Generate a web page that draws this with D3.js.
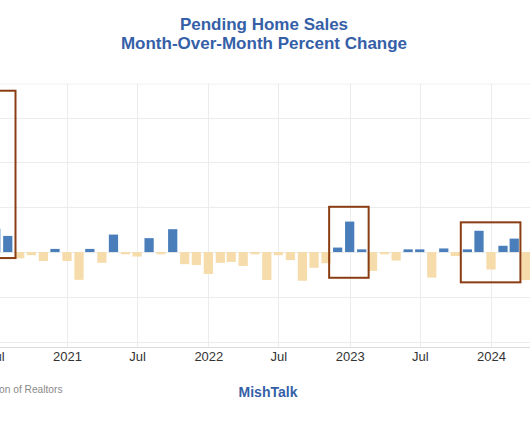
<!DOCTYPE html>
<html>
<head>
<meta charset="utf-8">
<script src="https://cdn.jsdelivr.net/npm/d3@7"></script>
<style>
  html, body { margin: 0; padding: 0; background: #ffffff; }
  svg { display: block; }
  text { font-family: "Liberation Sans", Arial, sans-serif; }
</style>
</head>
<body>
<div id="chart"></div>
<script>
// ---- Data (percent change, month over month) ----
const months = [
  "2020-07","2020-08","2020-09","2020-10","2020-11","2020-12",
  "2021-01","2021-02","2021-03","2021-04","2021-05","2021-06",
  "2021-07","2021-08","2021-09","2021-10","2021-11","2021-12",
  "2022-01","2022-02","2022-03","2022-04","2022-05","2022-06",
  "2022-07","2022-08","2022-09","2022-10","2022-11","2022-12",
  "2023-01","2023-02","2023-03","2023-04","2023-05","2023-06",
  "2023-07","2023-08","2023-09","2023-10","2023-11","2023-12",
  "2024-01","2024-02","2024-03","2024-04"
];
const pctChange = [
  5.2, 3.6, -1.4, -0.7, -2.0, 0.7,
  -2.0, -6.2, 0.7, -2.4, 3.9, -0.5,
  -1.0, 3.1, -0.5, 5.1, -2.7, -2.9,
  -4.9, -2.4, -2.2, -3.1, -0.5, -6.25,
  -0.7, -1.8, -6.4, -3.5, -2.5, 1.0,
  6.8, 0.6, -4.2, -0.5, -1.9, 0.6,
  0.6, -5.7, 0.8, -0.9, 0.6, 4.75,
  -3.9, 1.4, 3.0, -6.25
];
const tickDates = ["2020-07","2021-01","2021-07","2022-01","2022-07","2023-01","2023-07","2024-01"];
const tickLabels = ["Jul","2021","Jul","2022","Jul","2023","Jul","2024"];
const yGridValues = [30, 20, 10, 0, -10, -20];

// highlight boxes (annotation extents in data terms)
const boxStart = ["2020-03-15","2022-11-09","2023-10-15"];
const boxEnd   = ["2020-08-21","2023-02-19","2024-03-17"];
const boxHigh  = [36.0, 10.1, 6.63];
const boxLow   = [-1.34, -5.74, -6.76];

const titleLines = ["Pending Home Sales", "Month-Over-Month Percent Change"];
const sourceText = "Source: National Association of Realtors";
const brandText = "MishTalk";

// ---- Layout ----
const W = 530, H = 442;
const plotTop = 84, plotBottom = 347.5, plotLeft = -60, plotRight = W;

const parseM = d3.timeParse("%Y-%m");
const parseD = d3.timeParse("%Y-%m-%d");

const x = d3.scaleTime()
  .domain([parseM("2021-01"), parseM("2024-01")])
  .range([67, 491]);
const y = d3.scaleLinear()
  .domain([-21.3, 37.5])
  .range([plotBottom, plotTop]);

const data = months.map((m, i) => ({ date: parseM(m), value: pctChange[i] }));
const monthPx = x(parseM("2021-02")) - x(parseM("2021-01"));
const barW = monthPx * 0.77;

const svg = d3.select("#chart").append("svg")
  .attr("width", W).attr("height", H);

svg.append("rect").attr("width", W).attr("height", H).attr("fill", "#ffffff");

// top border of plot
svg.append("line")
  .attr("x1", plotLeft).attr("x2", plotRight)
  .attr("y1", plotTop).attr("y2", plotTop)
  .attr("stroke", "#f0f0f0").attr("stroke-width", 1);

// horizontal gridlines
svg.append("g").selectAll("line").data(yGridValues).join("line")
  .attr("x1", plotLeft).attr("x2", plotRight)
  .attr("y1", d => Math.round(y(d)) + 0.5).attr("y2", d => Math.round(y(d)) + 0.5)
  .attr("stroke", "#ececec").attr("stroke-width", 1);

// vertical gridlines
const tickD = tickDates.map(parseM);
svg.append("g").selectAll("line").data(tickD).join("line")
  .attr("x1", d => Math.round(x(d)) + 0.5).attr("x2", d => Math.round(x(d)) + 0.5)
  .attr("y1", plotTop).attr("y2", plotBottom)
  .attr("stroke", "#ececec").attr("stroke-width", 1);

// bottom axis line
svg.append("line")
  .attr("x1", plotLeft).attr("x2", plotRight)
  .attr("y1", plotBottom).attr("y2", plotBottom)
  .attr("stroke", "#dcdcdc").attr("stroke-width", 1);

// bars
svg.append("g").selectAll("rect").data(data).join("rect")
  .attr("x", d => x(d.date) - barW / 2)
  .attr("width", barW)
  .attr("y", d => d.value >= 0 ? y(d.value) : y(0))
  .attr("height", d => Math.abs(y(d.value) - y(0)))
  .attr("fill", d => d.value >= 0 ? "#4a7ebb" : "#f6dcaa");

// highlight boxes
const boxes = boxStart.map((s, i) => ({
  x0: x(parseD(s)), x1: x(parseD(boxEnd[i])), hi: boxHigh[i], lo: boxLow[i]
}));
svg.append("g").selectAll("rect").data(boxes).join("rect")
  .attr("x", d => d.x0).attr("width", d => d.x1 - d.x0)
  .attr("y", d => y(d.hi)).attr("height", d => y(d.lo) - y(d.hi))
  .attr("fill", "none").attr("stroke", "#8a3d12").attr("stroke-width", 2);

// x axis labels
const xAxis = d3.axisBottom(x).tickValues(tickD)
  .tickFormat((d, i) => tickLabels[i]).tickSize(0).tickPadding(0);
const gx = svg.append("g").attr("transform", `translate(0,${plotBottom})`).call(xAxis);
gx.select(".domain").remove();
gx.selectAll("text")
  .attr("y", 13.5).attr("dy", 0)
  .attr("font-size", 13).attr("fill", "#333333")
  .style("font-family", "'Liberation Sans', Arial, sans-serif");

// title
svg.append("g").selectAll("text").data(titleLines).join("text")
  .attr("x", 264).attr("y", (d, i) => 30 + i * 19)
  .attr("text-anchor", "middle")
  .attr("font-size", 17).attr("font-weight", "bold")
  .attr("fill", "#3560a8")
  .text(d => d);

// source
svg.append("text")
  .attr("x", 62.5).attr("y", 393)
  .attr("text-anchor", "end")
  .attr("font-size", 10.2).attr("fill", "#8a8a8a")
  .text(sourceText);

// brand
svg.append("text")
  .attr("x", 268).attr("y", 397)
  .attr("text-anchor", "middle")
  .attr("font-size", 14).attr("font-weight", "bold")
  .attr("fill", "#3560a8")
  .text(brandText);
</script>
</body>
</html>
